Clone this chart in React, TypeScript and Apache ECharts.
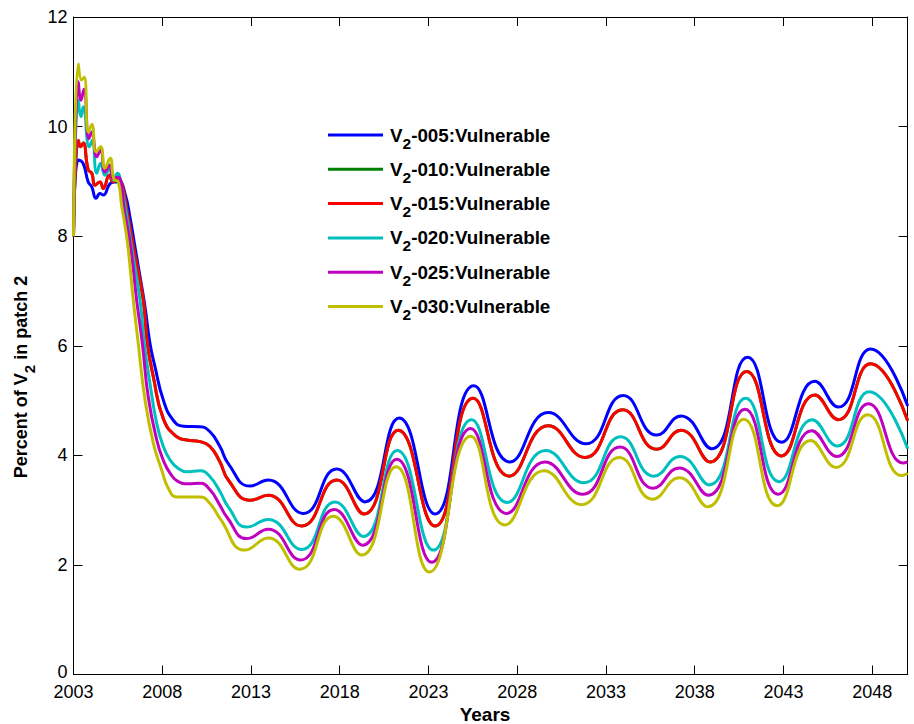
import React, { useEffect, useRef } from "react";
import * as echarts from "echarts";

// Series names and colours (MATLAB default order)
const seriesNames = [
  "V2-005:Vulnerable",
  "V2-010:Vulnerable",
  "V2-015:Vulnerable",
  "V2-020:Vulnerable",
  "V2-025:Vulnerable",
  "V2-030:Vulnerable",
];
const seriesColors = ["#0000FF", "#008000", "#FF0000", "#00BFBF", "#BF00BF", "#BFBF00"];

// [year, percent]
const v005: [number, number][] = [
  [2003.0, 8.0], [2003.27, 9.39], [2003.54, 9.33], [2003.83, 8.99], [2004.03, 8.9],
  [2004.27, 8.69], [2004.49, 8.78], [2004.68, 8.75], [2005.06, 8.96], [2005.34, 8.99],
  [2005.58, 8.99], [2005.9, 8.78], [2006.18, 8.35], [2006.46, 7.81], [2006.75, 7.26],
  [2007.03, 6.71], [2007.31, 6.04], [2007.59, 5.62], [2008.06, 5.01], [2008.62, 4.64],
  [2009.19, 4.53], [2010.13, 4.52], [2010.69, 4.43], [2011.25, 4.16], [2011.72, 3.85],
  [2012.94, 3.44], [2013.97, 3.55], [2015.95, 2.94], [2017.83, 3.75], [2019.42, 3.15],
  [2021.35, 4.68], [2023.37, 2.93], [2025.56, 5.27], [2027.59, 3.88], [2029.75, 4.78],
  [2031.87, 4.21], [2033.97, 5.09], [2035.86, 4.37], [2037.23, 4.72], [2038.95, 4.12],
  [2040.98, 5.79], [2042.9, 4.24], [2044.77, 5.35], [2046.09, 4.88], [2047.91, 5.94],
  [2050.0, 4.9],
];

const v015: [number, number][] = [
  [2003.0, 8.0], [2003.27, 9.75], [2003.41, 9.63], [2003.55, 9.7], [2003.83, 9.21],
  [2004.03, 9.15], [2004.21, 8.93], [2004.49, 8.99], [2004.68, 8.87], [2005.02, 9.11],
  [2005.24, 8.99], [2005.51, 9.05], [2005.72, 8.96], [2006.05, 8.4], [2006.41, 7.75],
  [2006.93, 6.83], [2007.16, 6.04], [2007.5, 5.43], [2008.06, 4.67], [2008.81, 4.34],
  [2009.38, 4.28], [2010.13, 4.25], [2010.69, 4.16], [2011.25, 3.88], [2011.72, 3.55],
  [2012.94, 3.18], [2013.97, 3.27], [2015.86, 2.71], [2017.83, 3.55], [2019.37, 2.93],
  [2021.3, 4.46], [2023.37, 2.71], [2025.52, 5.04], [2027.55, 3.62], [2029.75, 4.54],
  [2031.82, 3.96], [2033.94, 4.83], [2035.86, 4.11], [2037.23, 4.46], [2038.86, 3.88],
  [2040.93, 5.53], [2042.9, 3.99], [2044.77, 5.1], [2046.09, 4.65], [2047.91, 5.67],
  [2050.0, 4.63],
];

// V2-010 is hidden under V2-015 in the picture (drawn first, same values)
const v010: [number, number][] = v015;

const v020: [number, number][] = [
  [2003.0, 8.0], [2003.27, 10.48], [2003.42, 10.18], [2003.55, 10.36], [2003.89, 9.63],
  [2004.06, 9.75], [2004.31, 9.15], [2004.53, 9.33], [2004.77, 9.11], [2005.06, 9.24],
  [2005.24, 9.02], [2005.47, 9.15], [2005.68, 8.96], [2006.3, 7.75], [2006.75, 6.83],
  [2006.99, 6.04], [2007.31, 5.31], [2007.69, 4.58], [2008.06, 4.16], [2008.45, 3.91],
  [2008.9, 3.76], [2009.38, 3.7], [2010.13, 3.72], [2010.69, 3.61], [2011.25, 3.34],
  [2011.72, 3.06], [2012.76, 2.69], [2013.97, 2.83], [2015.86, 2.28], [2017.73, 3.15],
  [2019.33, 2.52], [2021.24, 4.09], [2023.27, 2.27], [2025.43, 4.65], [2027.44, 3.14],
  [2029.6, 4.09], [2031.76, 3.5], [2033.83, 4.34], [2035.7, 3.62], [2037.17, 3.98],
  [2038.82, 3.46], [2040.87, 5.04], [2042.75, 3.52], [2044.62, 4.65], [2046.03, 4.17],
  [2047.83, 5.16], [2050.0, 4.12],
];

const v025: [number, number][] = [
  [2003.0, 8.0], [2003.27, 10.82], [2003.42, 10.48], [2003.59, 10.68], [2003.87, 9.78],
  [2004.03, 9.9], [2004.31, 9.45], [2004.53, 9.57], [2004.77, 9.17], [2005.02, 9.3],
  [2005.24, 9.05], [2005.5, 9.08], [2005.9, 8.4], [2006.24, 7.75], [2006.56, 6.83],
  [2006.88, 6.04], [2007.21, 5.07], [2007.69, 4.28], [2008.06, 3.91], [2008.45, 3.67],
  [2008.9, 3.52], [2009.47, 3.48], [2010.13, 3.49], [2010.69, 3.37], [2011.25, 3.09],
  [2011.63, 2.88], [2012.76, 2.48], [2013.97, 2.65], [2015.8, 2.09], [2017.69, 3.01],
  [2019.29, 2.36], [2021.21, 3.93], [2023.18, 2.05], [2025.38, 4.49], [2027.41, 2.94],
  [2029.56, 3.88], [2031.69, 3.29], [2033.79, 4.15], [2035.66, 3.4], [2037.13, 3.77],
  [2038.76, 3.27], [2040.83, 4.84], [2042.71, 3.29], [2044.59, 4.45], [2046.0, 3.98],
  [2047.78, 4.94], [2049.75, 3.86], [2050.0, 3.88],
];

const v030: [number, number][] = [
  [2003.0, 8.0], [2003.27, 11.14], [2003.46, 10.85], [2003.61, 10.9], [2003.83, 9.9],
  [2004.03, 10.04], [2004.27, 9.54], [2004.53, 9.63], [2004.77, 9.24], [2005.06, 9.42],
  [2005.28, 9.04], [2005.52, 8.99], [2005.72, 8.54], [2005.9, 8.2], [2006.09, 7.75],
  [2006.37, 6.83], [2006.65, 6.04], [2007.03, 5.01], [2007.5, 4.22], [2007.97, 3.73],
  [2008.34, 3.4], [2008.81, 3.24], [2009.38, 3.24], [2010.13, 3.24], [2010.69, 3.12],
  [2011.25, 2.85], [2012.66, 2.27], [2013.97, 2.49], [2015.76, 1.92], [2017.64, 2.89],
  [2019.24, 2.18], [2021.17, 3.79], [2023.05, 1.87], [2025.38, 4.35], [2027.31, 2.73],
  [2029.51, 3.72], [2031.63, 3.1], [2033.75, 3.96], [2035.63, 3.2], [2037.13, 3.59],
  [2038.73, 3.06], [2040.77, 4.66], [2042.65, 3.08], [2044.53, 4.27], [2045.96, 3.78],
  [2047.74, 4.74], [2049.65, 3.63], [2050.0, 3.67],
];

const seriesData = [v005, v010, v015, v020, v025, v030];

// Axis settings
const xMin = 2003;
const xMax = 2050;
const xStep = 5;
const yMin = 0;
const yMax = 12;
const yStep = 2;

const FONT = "'Liberation Sans', Arial, Helvetica, sans-serif";

export default function App() {
  const ref = useRef<HTMLDivElement | null>(null);

  useEffect(() => {
    if (!ref.current) return;
    const chart = echarts.init(ref.current, undefined, { renderer: "svg" });

    const boldMain = { fontSize: 18.8, fontWeight: "bold" as const, fontFamily: FONT, color: "#000" };
    const boldSub = {
      fontSize: 15.5,
      fontWeight: "bold" as const,
      fontFamily: FONT,
      color: "#000",
      padding: [16, 0, 0, 0],
    };

    const tickLine = { show: true, inside: true, length: 9, lineStyle: { color: "#000", width: 1 } };
    const axisLine = { show: true, onZero: false, lineStyle: { color: "#000", width: 1 } };
    const tickFont = { fontSize: 18, fontFamily: FONT, color: "#000" };

    const option: any = {
      animation: false,
      backgroundColor: "#fff",
      grid: { left: 73.5, right: 6.3, top: 17, bottom: 49.5, containLabel: false },
      xAxis: [
        {
          type: "value",
          min: xMin,
          max: xMax,
          interval: xStep,
          position: "bottom",
          axisLine,
          axisTick: tickLine,
          splitLine: { show: false },
          axisLabel: {
            show: true,
            margin: 10,
            lineHeight: 14,
            showMaxLabel: false,
            ...tickFont,
            formatter: (v: number) => String(v),
          },
        },
        {
          type: "value",
          min: xMin,
          max: xMax,
          interval: xStep,
          position: "top",
          axisLine,
          axisTick: tickLine,
          splitLine: { show: false },
          axisLabel: { show: false },
        },
      ],
      yAxis: [
        {
          type: "value",
          min: yMin,
          max: yMax,
          interval: yStep,
          position: "left",
          axisLine,
          axisTick: tickLine,
          splitLine: { show: false },
          axisLabel: {
            show: true,
            margin: 6,
            ...tickFont,
            formatter: (v: number) => (v === 0 ? "{z|0}" : `{n|${v}}`),
            rich: {
              z: { ...tickFont, lineHeight: 14, padding: [0, 0, 6, 0] },
              n: { ...tickFont, lineHeight: 14 },
            },
          },
        },
        {
          type: "value",
          min: yMin,
          max: yMax,
          interval: yStep,
          position: "right",
          axisLine,
          axisTick: tickLine,
          splitLine: { show: false },
          axisLabel: { show: false },
        },
      ],
      legend: {
        show: true,
        orient: "vertical",
        left: 328,
        top: 125.5,
        padding: 0,
        itemWidth: 55,
        itemHeight: 12,
        itemGap: 8.8,
        data: seriesNames.map((n, i) => ({
          name: n,
          icon: "path://M0,0L55,0L55,3L0,3Z",
          itemStyle: { color: seriesColors[i] },
        })),
        formatter: (name: string) => `{f|V}{s|2}{m|${name.slice(2)}}`,
        textStyle: {
          rich: {
            f: { ...boldMain, padding: [0, 0, 0, 2] },
            m: boldMain,
            s: boldSub,
          },
        },
      },
      graphic: [
        {
          type: "text",
          x: 21,
          y: 377,
          rotation: Math.PI / 2,
          style: {
            text: "{m|Percent of V}{s|2}{m| in patch 2}",
            align: "center",
            verticalAlign: "middle",
            rich: { m: { ...boldMain, fontSize: 18 }, s: { ...boldSub, fontSize: 15 } },
          },
        },
        {
          type: "text",
          x: 485,
          y: 714,
          style: {
            text: "Years",
            align: "center",
            verticalAlign: "middle",
            font: `bold 19px ${FONT}`,
            fill: "#000",
          },
        },
      ],
      series: seriesNames.map((name, i) => ({
        name,
        type: "line",
        data: seriesData[i],
        xAxisIndex: 0,
        yAxisIndex: 0,
        smooth: 0.5,
        symbol: "none",
        showSymbol: false,
        clip: true,
        lineStyle: { color: seriesColors[i], width: 3 },
        itemStyle: { color: seriesColors[i] },
        z: 2 + i,
      })),
    };

    chart.setOption(option);
    return () => {
      chart.dispose();
    };
  }, []);

  return (
    <div
      ref={ref}
      style={{ position: "fixed", left: 0, top: 0, width: 914, height: 724, background: "#fff" }}
    />
  );
}
